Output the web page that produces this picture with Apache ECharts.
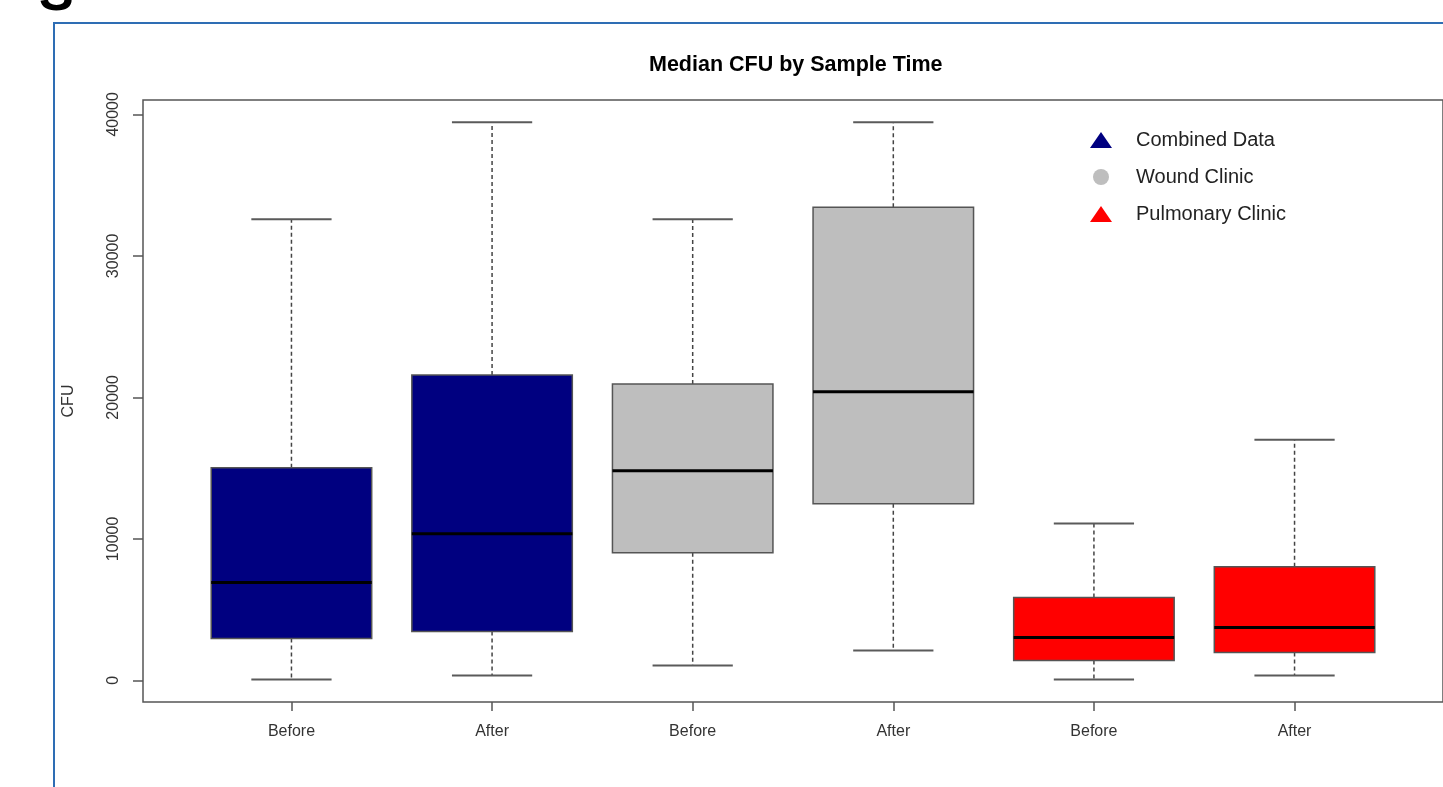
<!DOCTYPE html>
<html>
<head>
<meta charset="utf-8">
<script src="https://cdn.jsdelivr.net/npm/echarts@6/dist/echarts.min.js"></script>
<style>
  html, body { margin: 0; padding: 0; background: #fff; }
  #chart { width: 1443px; height: 787px; }
</style>
</head>
<body>
<div id="chart"></div>
<script>
// x 轴标签 (R boxplot, positions 1..6)
var timeLabels = ['Before', 'After', 'Before', 'After', 'Before', 'After'];
var groupNames = ['Combined Data', 'Wound Clinic', 'Pulmonary Clinic'];
var groupColors = ['#000080', '#bebebe', '#ff0000'];
var groupIcons = ['triangle', 'circle', 'triangle'];
// 每个分组占两个箱子
var groupOf = [0, 0, 1, 1, 2, 2];

// 箱线图五数
var lowWhisker  = [60, 350, 1060, 2120, 60, 350];
var lowerQ      = [2960, 3460, 9030, 12490, 1410, 1980];
var medians     = [6910, 10370, 14810, 20390, 3030, 3740];
var upperQ      = [15030, 21590, 20950, 33440, 5860, 8040];
var highWhisker = [32590, 39440, 32590, 39440, 11080, 17000];

var yTicks = [0, 10000, 20000, 30000, 40000];
var xTicks = [1, 2, 3, 4, 5, 6];

var font = 'Liberation Sans, Arial, sans-serif';

function renderBox(params, api) {
  var x = api.value(0);
  var lo = api.coord([x, api.value(1)]);
  var q1 = api.coord([x, api.value(2)]);
  var md = api.coord([x, api.value(3)]);
  var q3 = api.coord([x, api.value(4)]);
  var hi = api.coord([x, api.value(5)]);
  var w = api.size([0.8, 0])[0];
  var cx = lo[0];
  var dash = { stroke: '#444', lineWidth: 1.5, lineDash: [4, 3] };
  var cap = { stroke: '#5a5a5a', lineWidth: 2 };
  return {
    type: 'group',
    children: [
      { type: 'line', shape: { x1: cx, y1: q3[1], x2: cx, y2: hi[1] }, style: dash },
      { type: 'line', shape: { x1: cx, y1: q1[1], x2: cx, y2: lo[1] }, style: dash },
      { type: 'line', shape: { x1: cx - w / 4, y1: hi[1], x2: cx + w / 4, y2: hi[1] }, style: cap },
      { type: 'line', shape: { x1: cx - w / 4, y1: lo[1], x2: cx + w / 4, y2: lo[1] }, style: cap },
      {
        type: 'rect',
        shape: { x: cx - w / 2, y: q3[1], width: w, height: q1[1] - q3[1] },
        style: { fill: api.visual('color'), stroke: '#555', lineWidth: 1.5 }
      },
      { type: 'line', shape: { x1: cx - w / 2, y1: md[1], x2: cx + w / 2, y2: md[1] }, style: { stroke: '#000', lineWidth: 3 } }
    ]
  };
}

var series = groupNames.map(function (name, g) {
  var data = [];
  for (var i = 0; i < timeLabels.length; i++) {
    if (groupOf[i] !== g) continue;
    data.push([xTicks[i], lowWhisker[i], lowerQ[i], medians[i], upperQ[i], highWhisker[i]]);
  }
  return {
    name: name,
    type: 'custom',
    renderItem: renderBox,
    itemStyle: { color: groupColors[g] },
    encode: { x: 0, y: [1, 2, 3, 4, 5] },
    data: data
  };
});

var chart = echarts.init(document.getElementById('chart'));
chart.setOption({
  animation: false,
  title: {
    text: 'Median CFU by Sample Time',
    left: 644,
    top: 49,
    textStyle: { fontFamily: font, fontSize: 21.5, fontWeight: 'bold', color: '#000' }
  },
  legend: {
    orient: 'vertical',
    left: 1085,
    top: 125,
    itemWidth: 22,
    itemHeight: 16,
    itemGap: 17,
    textStyle: { fontFamily: font, fontSize: 20, color: '#222', padding: [0, 0, 0, 19] },
    data: groupNames.map(function (n, g) { return { name: n, icon: groupIcons[g] }; })
  },
  grid: {
    left: 143,
    top: 100,
    width: 1304,
    height: 602,
    show: true,
    borderColor: '#555',
    borderWidth: 1.5,
    backgroundColor: 'transparent'
  },
  xAxis: {
    type: 'value',
    min: 0.26,
    max: 6.74,
    axisLine: { show: false, onZero: false },
    splitLine: { show: false },
    axisTick: { length: 9, lineStyle: { color: '#555', width: 1.5 }, customValues: xTicks },
    axisLabel: {
      customValues: xTicks,
      margin: 22,
      fontFamily: font,
      fontSize: 16,
      color: '#333',
      formatter: function (v) { return timeLabels[Math.round(v) - 1]; }
    }
  },
  yAxis: {
    type: 'value',
    min: -1526,
    max: 41016,
    name: 'CFU',
    nameLocation: 'middle',
    nameRotate: 90,
    nameGap: 66,
    nameTextStyle: { fontFamily: font, fontSize: 16, color: '#333' },
    axisLine: { show: false, onZero: false },
    splitLine: { show: false },
    axisTick: { length: 10, lineStyle: { color: '#555', width: 1.5 }, customValues: yTicks },
    axisLabel: {
      customValues: yTicks,
      rotate: 90,
      margin: 21,
      fontFamily: font,
      fontSize: 16,
      color: '#333',
      formatter: function (v) { return String(v); }
    }
  },
  graphic: [
    {
      type: 'rect',
      shape: { x: 54, y: 23, width: 1500, height: 900 },
      style: { fill: 'none', stroke: '#2e6db4', lineWidth: 2 },
      silent: true
    },
    {
      type: 'text',
      x: 39,
      y: 22,
      style: { text: 'S', fontFamily: font, fontSize: 52, fontWeight: 'bold', fill: '#000', verticalAlign: 'bottom' },
      silent: true
    }
  ],
  series: series
});
</script>
</body>
</html>
